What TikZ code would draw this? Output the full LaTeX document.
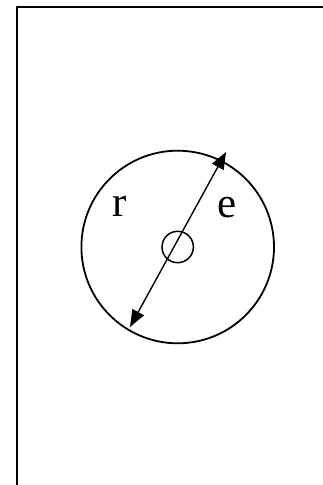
\documentclass[tikz,border=0pt]{standalone}
\usepackage{fontspec}
\setmainfont{Liberation Serif}
\usetikzlibrary{arrows.meta}
\begin{document}
\begin{tikzpicture}[
	x=1pt,y=1pt,line join = round,>={Triangle[length=17pt,width=13pt]},inner sep = 0pt,
	ring/.style={circle,draw = black,line width=1.8pt},
	letter/.style={font=\fontsize{43}{50}\selectfont}]
	\useasboundingbox (0,0) rectangle (323,-485);
	\clip (0,0) rectangle (323,-485);
	\draw[line width=2.2pt] (17,-490) -- (17,-7) -- (330,-7);
	\node at (177.7,-247) (disc) [ring, minimum size=192.6pt] {};
	\node at (177.7,-247) (hub) [ring, line width=1.5pt, minimum size=31.4pt] {};
	\coordinate (tipLow) at (130,-327);
	\coordinate (tipHigh) at (226,-152);
	\draw[<->,line width=1.4pt] (tipLow) -- (tipHigh);
	\node at (120,-206.5) (labR) [letter] {r};
	\node at (227,-207.5) (labE) [letter] {e};
\end{tikzpicture}
\end{document}
